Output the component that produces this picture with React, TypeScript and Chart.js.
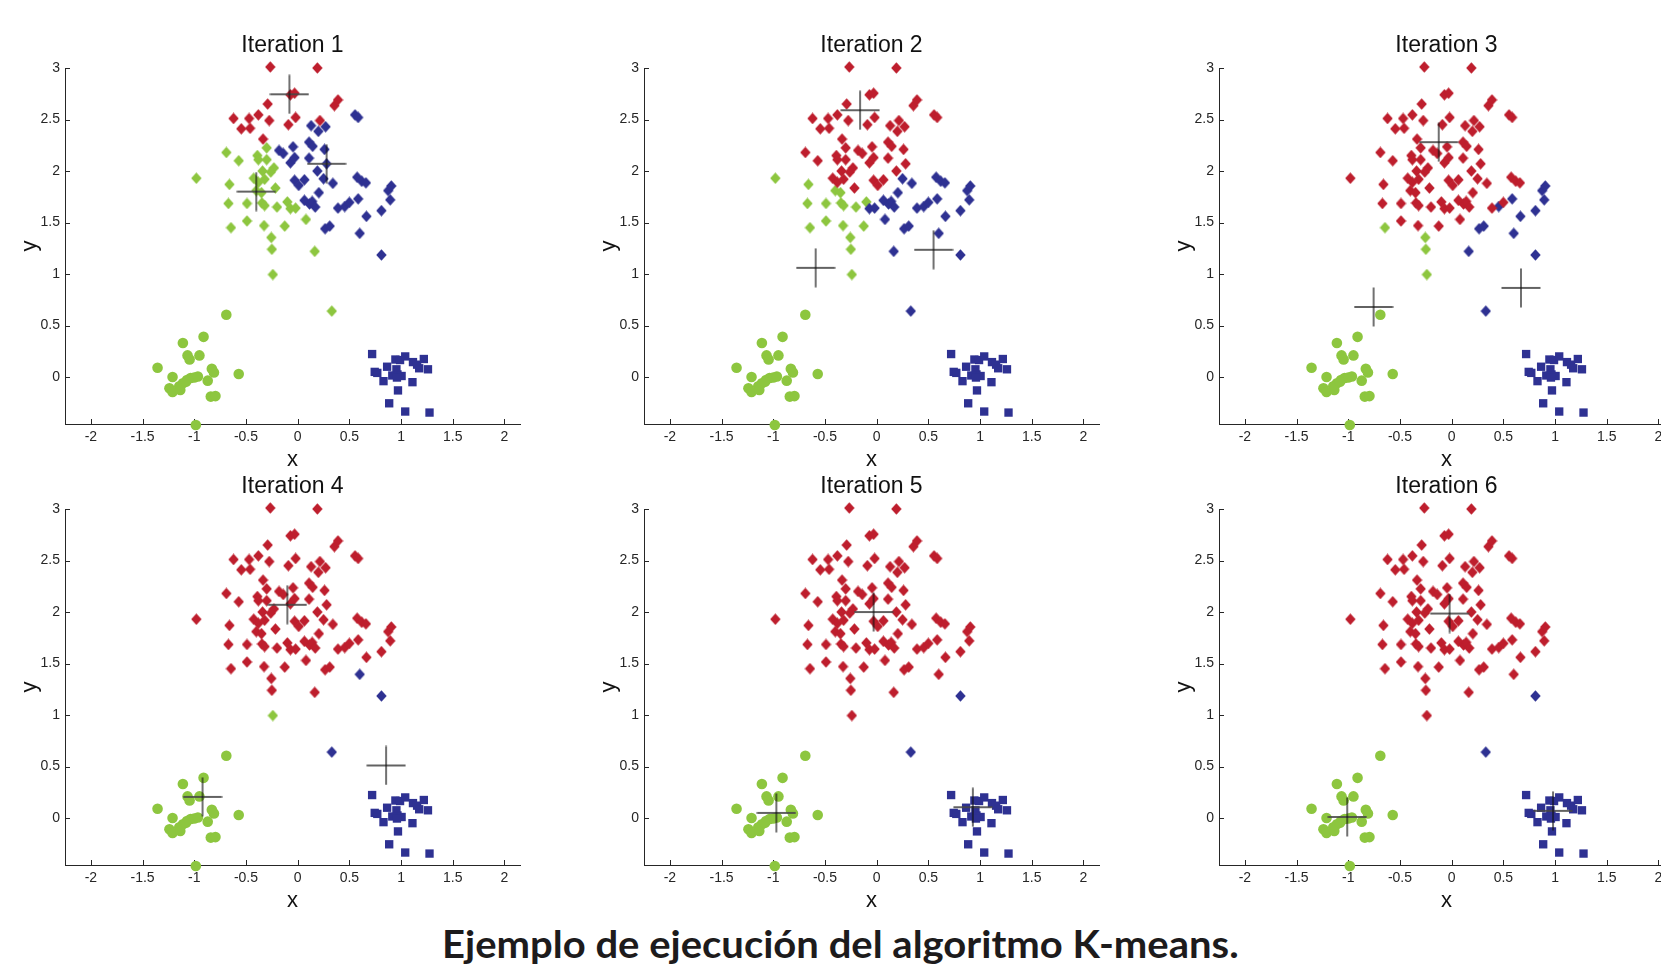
import React, { useEffect, useLayoutEffect, useRef } from 'react';
import { Chart, registerables } from 'chart.js';

Chart.register(...registerables);

// ---------- data ----------
const iterationTitles = ['Iteration 1', 'Iteration 2', 'Iteration 3', 'Iteration 4', 'Iteration 5', 'Iteration 6'];

const xTickValues = [-2, -1.5, -1, -0.5, 0, 0.5, 1, 1.5, 2];
const xTickLabels = ['-2', '-1.5', '-1', '-0.5', '0', '0.5', '1', '1.5', '2'];
const yTickValues = [0, 0.5, 1, 1.5, 2, 2.5, 3];
const yTickLabels = ['0', '0.5', '1', '1.5', '2', '2.5', '3'];

// upper cluster (diamonds)
const diamondX = [
  -0.265, 0.19, -0.07, -0.03, -0.29, 0.355, 0.39, 0.555, 0.585, -0.62,
  -0.47, -0.38, -0.275, -0.02, -0.545, -0.46, -0.09, 0.13, 0.215, 0.27,
  0.2, -0.335, -0.3, -0.69, -0.57, -0.39, -0.38, -0.3, -0.18, -0.14,
  -0.045, -0.07, -0.03, 0.11, 0.145, 0.11, 0.26, 0.28, -0.23, -0.26,
  -0.98, -0.66, -0.425, -0.38, -0.34, -0.32, -0.4, -0.35, -0.345, -0.32,
  -0.215, -0.03, 0.01, 0.065, 0.19, 0.25, 0.34, 0.205, 0.575, 0.62,
  0.66, 0.875, 0.905, 0.895, -0.67, -0.49, -0.2, -0.1, -0.07, -0.02,
  0.065, 0.115, 0.14, 0.17, 0.39, 0.455, 0.5, 0.585, 0.81, 0.665,
  -0.49, -0.645, -0.325, -0.125, 0.08, 0.265, 0.31, 0.6, -0.255, -0.25,
  0.165, -0.24, 0.81, 0.33,
];
const diamondY = [
  3.01, 3.0, 2.74, 2.755, 2.65, 2.635, 2.69, 2.545, 2.52, 2.51,
  2.51, 2.545, 2.49, 2.52, 2.41, 2.415, 2.45, 2.44, 2.49, 2.43,
  2.385, 2.31, 2.225, 2.18, 2.1, 2.15, 2.11, 2.11, 2.2, 2.17,
  2.235, 2.08, 2.13, 2.28, 2.24, 2.125, 2.21, 2.07, 2.03, 1.99,
  1.93, 1.87, 1.93, 1.89, 2.0, 1.92, 1.81, 1.79, 1.69, 1.665,
  1.835, 1.91, 1.86, 1.915, 2.0, 1.925, 1.88, 1.79, 1.94, 1.9,
  1.885, 1.81, 1.855, 1.72, 1.685, 1.685, 1.65, 1.7, 1.635, 1.64,
  1.715, 1.68, 1.705, 1.65, 1.64, 1.655, 1.695, 1.73, 1.615, 1.56,
  1.515, 1.45, 1.47, 1.465, 1.53, 1.44, 1.465, 1.395, 1.355, 1.24,
  1.22, 0.995, 1.185, 0.64,
];

// lower-left cluster (circles)
const circleX = [
  -0.69, -0.91, -1.11, -1.065, -1.045, -0.95, -1.355, -1.21, -0.83, -0.81,
  -0.57, -0.87, -1.07, -1.035, -1.0, -0.965, -1.11, -1.145, -1.24, -1.21,
  -1.135, -0.84, -0.795, -0.985, -1.08,
];
const circleY = [
  0.605, 0.39, 0.33, 0.21, 0.17, 0.21, 0.09, 0.0, 0.08, 0.045,
  0.03, -0.035, -0.03, -0.01, -0.005, 0.005, -0.06, -0.09, -0.11, -0.145,
  -0.125, -0.19, -0.185, -0.465, -0.045,
];

// lower-right cluster (squares)
const squareX = [
  0.72, 0.745, 0.77, 0.865, 0.83, 0.945, 0.99, 1.04, 0.955, 0.965,
  1.005, 0.915, 0.96, 1.115, 1.155, 1.22, 1.175, 1.26, 1.11, 0.97,
  0.885, 1.04, 1.275,
];
const squareY = [
  0.223, 0.05, 0.04, 0.1, -0.04, 0.17, 0.165, 0.2, 0.075, 0.025,
  0.01, 0.015, -0.005, 0.145, 0.12, 0.175, 0.085, 0.075, -0.05, -0.13,
  -0.255, -0.335, -0.345,
];

// cluster of every diamond at each iteration (R = red, B = blue, G = green)
const clustersIter1 = 'RRRRRRRBBR' + 'RRRRRRRBRB' + 'BRGGGGGGBB' + 'BBBBBBBBGG' + 'GGGGGGGGGG' + 'GBBBBBBBBB' + 'BBBBGGGGGG' + 'BBBBBBBBBB' + 'GGGGGBBBGG' + 'GGBG';
const clustersIter2 = 'RRRRRRRRRR' + 'RRRRRRRRRR' + 'RRRRRRRRRR' + 'RRRRRRRRRR' + 'GGRRRRGGGG' + 'RRRRRBBBBB' + 'BBBBGGGGBB' + 'BBBBBBBBBB' + 'GGGGBBBBGG' + 'BGBB';
const clustersIter3 = 'RRRRRRRRRR' + 'RRRRRRRRRR' + 'RRRRRRRRRR' + 'RRRRRRRRRR' + 'RRRRRRRRRR' + 'RRRRRRRRRR' + 'RBBBRRRRRR' + 'RRRRRBRBBB' + 'RGRRRBBBGG' + 'BGBB';
const clustersIter4 = 'RRRRRRRRRR' + 'RRRRRRRRRR' + 'RRRRRRRRRR' + 'RRRRRRRRRR' + 'RRRRRRRRRR' + 'RRRRRRRRRR' + 'RRRRRRRRRR' + 'RRRRRRRRRR' + 'RRRRRRRBRR' + 'RGBB';
const clustersIter5 = 'RRRRRRRRRR' + 'RRRRRRRRRR' + 'RRRRRRRRRR' + 'RRRRRRRRRR' + 'RRRRRRRRRR' + 'RRRRRRRRRR' + 'RRRRRRRRRR' + 'RRRRRRRRRR' + 'RRRRRRRRRR' + 'RRBB';
const clustersIter6 = clustersIter5;
const iterationClusters = [clustersIter1, clustersIter2, clustersIter3, clustersIter4, clustersIter5, clustersIter6];

// centroids (the "+" marks) per iteration
const centroidXIter = [
  [-0.08, 0.28, -0.4],
  [-0.16, -0.59, 0.55],
  [-0.125, -0.755, 0.67],
  [-0.1, -0.92, 0.855],
  [-0.03, -0.97, 0.93],
  [-0.02, -1.01, 0.98],
];
const centroidYIter = [
  [2.745, 2.07, 1.8],
  [2.59, 1.06, 1.235],
  [2.28, 0.68, 0.865],
  [2.07, 0.205, 0.51],
  [2.0, 0.05, 0.105],
  [1.985, 0.01, 0.07],
];

const CAPTION = 'Ejemplo de ejecución del algoritmo K-means.';

// ---------- styles ----------
const COLORS: Record<string, string> = { R: '#BE1E2D', B: '#2E3192', G: '#8DC63F' };
const AXIS_COLOR = '#262626';
const FONT = "'Liberation Sans', Arial, Helvetica, sans-serif";

const X_MIN = -2.25;
const X_MAX = 2.15;
const Y_MIN = -0.456;
const Y_MAX = 3.0;

const CANVAS_W = 525;
const CANVAS_H = 440;
const COL_LEFT = [5, 584, 1159];
const ROW_TOP = [34, 475];
const CAPTION_WIDTH = 797;

function makeDiamond(color: string) {
  const w = 11;
  const h = 12;
  const c = document.createElement('canvas');
  c.width = w;
  c.height = h;
  const ctx = c.getContext('2d')!;
  ctx.fillStyle = color;
  ctx.beginPath();
  ctx.moveTo(w / 2, 0.3);
  ctx.lineTo(w - 0.3, h / 2);
  ctx.lineTo(w / 2, h - 0.3);
  ctx.lineTo(0.3, h / 2);
  ctx.closePath();
  ctx.fill();
  return c;
}

function makeCross() {
  const s = 40;
  const c = document.createElement('canvas');
  c.width = s;
  c.height = s;
  const ctx = c.getContext('2d')!;
  ctx.strokeStyle = 'rgba(70,70,70,0.85)';
  ctx.lineWidth = 1.8;
  ctx.beginPath();
  ctx.moveTo(0.5, s / 2);
  ctx.lineTo(s - 0.5, s / 2);
  ctx.stroke();
  ctx.strokeStyle = '#111111';
  ctx.lineWidth = 1.2;
  ctx.beginPath();
  ctx.moveTo(s / 2, 0.5);
  ctx.lineTo(s / 2, s - 0.5);
  ctx.stroke();
  return c;
}

const inwardTicks = {
  id: 'inwardTicks',
  beforeDatasetsDraw(chart: any) {
    const { ctx } = chart;
    const xs = chart.scales.x;
    const ys = chart.scales.y;
    ctx.save();
    ctx.strokeStyle = AXIS_COLOR;
    ctx.lineWidth = 1;
    ctx.beginPath();
    xs.ticks.forEach((t: any) => {
      const px = Math.round(xs.getPixelForValue(t.value)) + 0.5;
      ctx.moveTo(px, xs.top);
      ctx.lineTo(px, xs.top - 5);
    });
    ys.ticks.forEach((t: any) => {
      const py = Math.round(ys.getPixelForValue(t.value)) + 0.5;
      ctx.moveTo(ys.right, py);
      ctx.lineTo(ys.right + 5, py);
    });
    ctx.stroke();
    ctx.restore();
  },
};

function pts(xs: number[], ys: number[], keep?: (i: number) => boolean) {
  const out: { x: number; y: number }[] = [];
  xs.forEach((x, i) => {
    if (!keep || keep(i)) out.push({ x, y: ys[i] });
  });
  return out;
}

function Panel({ index }: { index: number }) {
  const ref = useRef<HTMLCanvasElement>(null);
  useEffect(() => {
    if (!ref.current) return;
    const labels = iterationClusters[index];
    const diamonds = (c: string) => pts(diamondX, diamondY, (i) => labels[i] === c);
    const diamondStyle = (c: string) => ({
      data: diamonds(c),
      pointStyle: makeDiamond(COLORS[c]),
      pointRadius: 6,
      backgroundColor: COLORS[c],
      borderColor: COLORS[c],
      borderWidth: 0,
      clip: false,
    });
    const chart = new Chart(ref.current, {
      type: 'scatter',
      data: {
        datasets: [
          {
            data: pts(centroidXIter[index], centroidYIter[index]),
            pointStyle: makeCross(),
            pointRadius: 20,
            borderColor: '#1e1e1e',
            backgroundColor: 'rgba(0,0,0,0)',
            borderWidth: 1.3,
            clip: false,
          },
          diamondStyle('R'),
          diamondStyle('B'),
          diamondStyle('G'),
          {
            data: pts(circleX, circleY),
            pointStyle: 'circle',
            pointRadius: 5.3,
            backgroundColor: COLORS.G,
            borderColor: COLORS.G,
            borderWidth: 0,
            clip: false,
          },
          {
            data: pts(squareX, squareY),
            pointStyle: 'rect',
            pointRadius: 5.9,
            backgroundColor: COLORS.B,
            borderColor: COLORS.B,
            borderWidth: 0,
            clip: false,
          },
        ] as any,
      },
      options: {
        responsive: false,
        animation: false,
        events: [],
        layout: { autoPadding: false, padding: { left: 0, right: 10, top: 0, bottom: 0 } },
        plugins: {
          legend: { display: false },
          tooltip: { enabled: false },
          title: {
            display: true,
            fullSize: false,
            text: iterationTitles[index],
            color: '#111',
            font: { family: FONT, size: 23, weight: 'normal', lineHeight: 1 },
            padding: { top: 0, bottom: 11 },
          },
        },
        scales: {
          x: {
            type: 'linear',
            min: X_MIN,
            max: X_MAX,
            afterBuildTicks: (scale: any) => {
              scale.ticks = xTickValues.map((v) => ({ value: v }));
            },
            afterFit: (scale: any) => {
              scale.height = 50;
              scale.paddingLeft = 0;
              scale.paddingRight = 0;
            },
            ticks: {
              color: AXIS_COLOR,
              font: { family: FONT, size: 14 },
              padding: 5,
              maxRotation: 0,
              autoSkip: false,
              callback: (_v: any, i: number) => xTickLabels[i],
            },
            grid: { display: false, drawTicks: false },
            border: { display: true, color: AXIS_COLOR, width: 1 },
            title: {
              display: true,
              text: 'x',
              color: '#111',
              font: { family: FONT, size: 22 },
              padding: { top: 0, bottom: 1 },
            },
          },
          y: {
            type: 'linear',
            min: Y_MIN,
            max: Y_MAX,
            afterBuildTicks: (scale: any) => {
              scale.ticks = yTickValues.map((v) => ({ value: v }));
            },
            afterFit: (scale: any) => {
              scale.width = 60;
              scale.paddingTop = 0;
              scale.paddingBottom = 0;
            },
            ticks: {
              color: AXIS_COLOR,
              font: { family: FONT, size: 14 },
              padding: 5,
              autoSkip: false,
              callback: (_v: any, i: number) => yTickLabels[i],
            },
            grid: { display: false, drawTicks: false },
            border: { display: true, color: AXIS_COLOR, width: 1 },
            title: {
              display: true,
              text: 'y',
              color: '#111',
              font: { family: FONT, size: 22 },
              padding: { top: 12, bottom: 0 },
            },
          },
        },
      } as any,
      plugins: [inwardTicks],
    });
    return () => chart.destroy();
  }, [index]);

  const col = index % 3;
  const row = Math.floor(index / 3);
  return (
    <canvas
      ref={ref}
      width={CANVAS_W}
      height={CANVAS_H}
      style={{
        position: 'absolute',
        left: COL_LEFT[col],
        top: ROW_TOP[row],
        width: CANVAS_W,
        height: CANVAS_H,
      }}
    />
  );
}

function Caption() {
  const ref = useRef<HTMLSpanElement>(null);
  useLayoutEffect(() => {
    const fit = () => {
      const el = ref.current;
      if (!el) return;
      el.style.transform = 'none';
      const w = el.offsetWidth;
      if (w > 0) el.style.transform = `scaleX(${CAPTION_WIDTH / w})`;
    };
    fit();
    if ((document as any).fonts && (document as any).fonts.ready) {
      (document as any).fonts.ready.then(fit);
    }
  }, []);
  return (
    <div
      style={{
        position: 'absolute',
        left: 340,
        width: 1000,
        top: 924,
        textAlign: 'center',
        fontFamily: "Lato, 'Open Sans', sans-serif",
        fontWeight: 700,
        fontSize: 38,
        lineHeight: 1,
        color: '#1d1b1c',
      }}
    >
      <span ref={ref} style={{ display: 'inline-block', whiteSpace: 'nowrap', transformOrigin: 'center' }}>
        {CAPTION}
      </span>
    </div>
  );
}

export default function App() {
  return (
    <div
      style={{
        position: 'absolute',
        left: 0,
        top: 0,
        width: 1661,
        height: 973,
        overflow: 'hidden',
        background: '#ffffff',
      }}
    >
      {iterationTitles.map((_, i) => (
        <Panel key={i} index={i} />
      ))}
      <Caption />
    </div>
  );
}
